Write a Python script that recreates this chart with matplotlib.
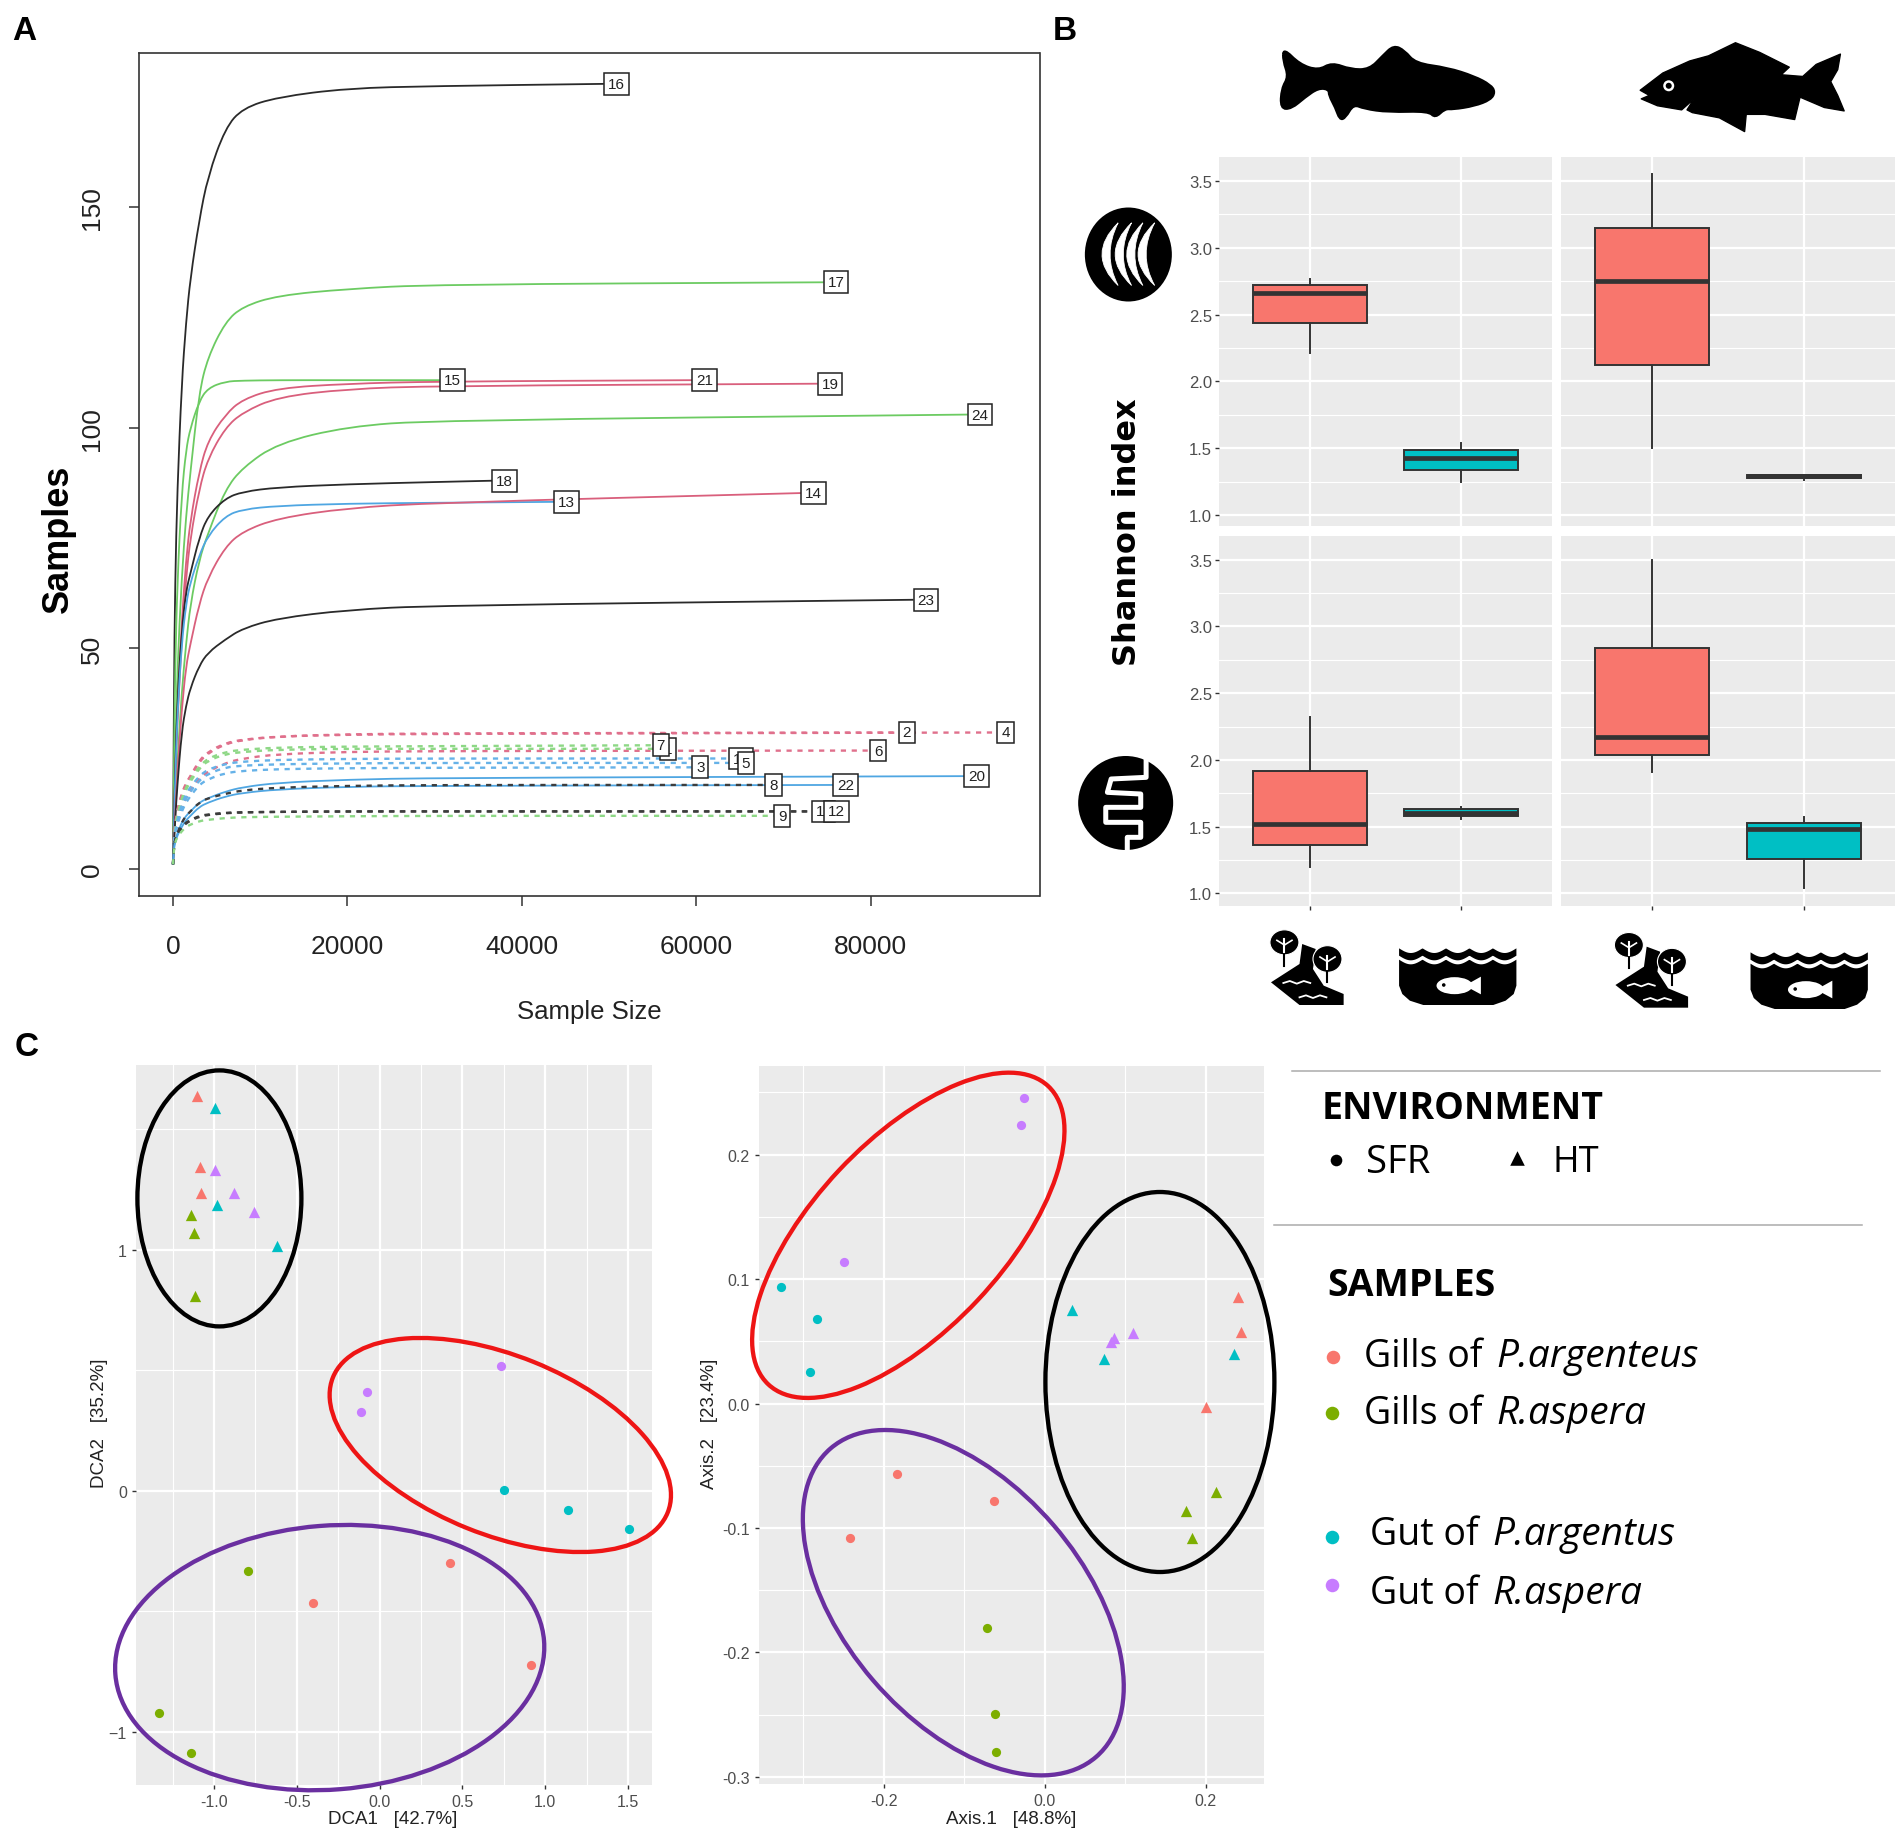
import numpy as np
import matplotlib
matplotlib.use("Agg")
import matplotlib.pyplot as plt
from matplotlib.patches import Ellipse, Polygon, PathPatch, Circle
from matplotlib.path import Path

W, H = 1904, 1833

# ---- panel A data, rarefaction curves
sizes = [1, 100, 250, 500, 1000, 1500, 2000, 3000, 4000, 6000, 8000, 12000, 20000, 30000]

curve_labels = ["16", "17", "15", "21", "19", "24", "18", "13", "14", "23",
                "4", "2", "6", "1", "7", "10", "5", "3", "20", "22", "8", "11", "12", "9"]
curve_kinds = ["k", "g", "g", "r", "r", "g", "k", "b", "r", "k",
               "r", "r", "r", "g", "g", "b", "b", "b", "b", "b", "k", "k", "k", "g"]
curve_dashed = [0, 0, 0, 0, 0, 0, 0, 0, 0, 0,
                1, 1, 1, 1, 1, 1, 1, 1, 0, 0, 1, 1, 1, 1]
curve_end_x = [49400, 74600, 30600, 59500, 73900, 91100, 36600, 43700, 72000, 84900,
               94500, 83200, 79900, 55800, 55000, 63700, 64700, 59500, 90700, 75700, 67900, 73200, 74600, 68900]
curve_end_y = [178, 133, 110.8, 110.8, 110, 103, 88, 83.2, 85.2, 61,
               30.9, 30.9, 26.8, 27.2, 28, 25, 24, 23, 21, 19, 19, 13, 13, 12]
curve_values = [
    [1, 40, 65, 86, 110, 124, 134, 147, 157, 168, 172.5, 175, 177, 177.5],
    [1, 12, 26, 45, 66, 80, 90, 108, 116, 124, 127.5, 130, 131.5, 132.5],
    [1, 24, 45, 65, 85, 95, 100, 106, 109, 110.5, 110.7, 110.8, 110.8, 110.8],
    [1, 10, 22, 36, 56, 70, 79, 90, 97, 103, 106.5, 109, 110, 110.5],
    [1, 9, 20, 33, 52, 66, 75, 86, 93, 100, 103.5, 107, 108.8, 109.5],
    [1, 7, 13, 24, 40, 51, 60, 70, 76, 86, 91, 96.5, 100.3, 101.7],
    [1, 10, 22, 38, 54, 63, 67, 75, 80, 84, 85.5, 86.5, 87.2, 87.7],
    [1, 9, 20, 35, 51, 60, 65, 71, 75.5, 80, 81.5, 82.3, 82.8, 83],
    [1, 6, 12, 22, 36, 46, 51, 60, 66, 73, 76.5, 79.5, 81.8, 83],
    [1, 5, 11, 19, 31, 37, 41, 46, 49, 52, 54.5, 56.8, 58.7, 59.7],
    [1, 7, 10, 13.2, 16.8, 19.2, 20.8, 24.2, 26.2, 28.3, 29.2, 30, 30.4, 30.6],
    [1, 7, 10, 13.5, 17, 19.5, 21, 24.5, 26.5, 28.5, 29.3, 30, 30.5, 30.7],
    [1, 6, 8.5, 11, 14, 16, 18, 20.5, 22, 24, 25, 26, 26.5, 26.7],
    [1, 6, 9, 12, 15.5, 18, 19.8, 22.7, 24.5, 26, 26.5, 27, 27.2, 27.2],
    [1, 7, 9.5, 12.5, 16, 18.5, 20.3, 23.2, 25, 26.5, 27, 27.5, 27.7, 27.8],
    [1, 6, 8.5, 11, 14.5, 17, 18.5, 21, 22.5, 23.8, 24.3, 24.7, 24.9, 25],
    [1, 6, 8, 10.5, 14, 16, 17.5, 20, 21.5, 23, 23.4, 23.7, 23.9, 24],
    [1, 5.5, 7.5, 10, 13, 15, 16.5, 19, 20.3, 21.7, 22.2, 22.6, 22.8, 22.9],
    [1, 5, 6.5, 8, 10.5, 12, 13, 15, 16, 17.5, 18.5, 19.5, 20.2, 20.6],
    [1, 4.5, 6, 7.5, 9.5, 11, 12, 14, 15, 16.4, 17.2, 18, 18.6, 18.8],
    [1, 5, 6.5, 8, 10.5, 12, 13, 15, 16, 17, 17.8, 18.4, 18.8, 19],
    [1, 5, 6.5, 8, 9.3, 10.3, 10.9, 11.8, 12.2, 12.6, 12.8, 12.9, 13, 13],
    [1, 5, 6.5, 8, 9.5, 10.5, 11, 12, 12.3, 12.7, 12.8, 12.9, 13, 13],
    [1, 4.5, 6, 7.2, 8.5, 9.5, 10, 10.8, 11.1, 11.5, 11.7, 11.8, 11.9, 12],
]

# ---- panel B data, one row per box: q1, median, q3, low whisker, high whisker
gills_parg_box = [[2.44, 2.66, 2.72, 2.21, 2.77], [1.34, 1.43, 1.49, 1.25, 1.54]]
gills_rasp_box = [[2.12, 2.75, 3.15, 1.50, 3.55], [1.28, 1.29, 1.30, 1.26, 1.30]]
gut_parg_box = [[1.36, 1.52, 1.92, 1.20, 2.32], [1.58, 1.60, 1.63, 1.56, 1.65]]
gut_rasp_box = [[2.04, 2.17, 2.84, 1.91, 3.50], [1.26, 1.48, 1.53, 1.04, 1.57]]

# ---- panel C data, order of groups: gills P.arg, gills R.asp, gut P.arg, gut R.asp
dca_ht_x = [[-1.105, -1.086, -1.079], [-1.136, -1.120, -1.113], [-0.995, -0.984, -0.620], [-0.992, -0.877, -0.759]]
dca_ht_y = [[1.637, 1.342, 1.236], [1.142, 1.070, 0.806], [1.589, 1.184, 1.014], [1.329, 1.235, 1.156]]
dca_sfr_x = [[0.427, -0.403, 0.916], [-0.793, -1.330, -1.136], [0.749, 1.139, 1.503], [-0.076, -0.115, 0.730]]
dca_sfr_y = [[-0.300, -0.465, -0.722], [-0.332, -0.923, -1.089], [0.004, -0.079, -0.157], [0.408, 0.325, 0.519]]
pcoa_ht_x = [[0.240, 0.2435, 0.200], [0.2131, 0.1755, 0.1831], [0.0338, 0.0742, 0.235], [0.0861, 0.0828, 0.1099]]
pcoa_ht_y = [[0.0856, 0.0576, -0.0029], [-0.0708, -0.0864, -0.1078], [0.0749, 0.0358, 0.0395], [0.0527, 0.0498, 0.0568]]
pcoa_sfr_x = [[-0.1836, -0.0628, -0.2421], [-0.0718, -0.0618, -0.0604], [-0.3277, -0.2830, -0.2920], [-0.0257, -0.0295, -0.2497]]
pcoa_sfr_y = [[-0.0568, -0.0786, -0.1082], [-0.1802, -0.2494, -0.2802], [0.0938, 0.0683, 0.0251], [0.2453, 0.2239, 0.1136]]

line_colors = {"k": "#2a2a2a", "g": "#6ccb62", "r": "#d95f7c", "b": "#4fa6e2"}
dash_colors = {"k": "#3c3c3c", "g": "#8ed886", "r": "#e0708c", "b": "#66b2e8"}
group_colors = ["#F8766D", "#7CAE00", "#00BFC4", "#C77CFF"]
GREY = "#EBEBEB"
TICK = "#4D4D4D"


def pane(left, top, right, bottom):
    return fig.add_axes([left / W, 1 - bottom / H, (right - left) / W, (bottom - top) / H])


def gg_style(ax, xmajor, xminor, ymajor, yminor):
    ax.set_facecolor(GREY)
    for s in ax.spines.values():
        s.set_visible(False)
    ax.set_xticks(xmajor)
    ax.set_yticks(ymajor)
    ax.set_xticks(xminor, minor=True)
    ax.set_yticks(yminor, minor=True)
    ax.set_axisbelow(True)
    ax.grid(which="major", color="white", lw=1.6)
    ax.grid(which="minor", color="white", lw=0.8)
    ax.tick_params(which="minor", length=0)
    ax.tick_params(which="major", length=3, width=1, color="#333333", labelcolor=TICK)


def curve_path(xs, ys):
    # the read values act as control points, so the line bends like the original
    verts = [(xs[0], ys[0])]
    codes = [Path.MOVETO]
    for i in range(1, len(xs) - 1):
        verts += [(xs[i], ys[i]), ((xs[i] + xs[i + 1]) / 2, (ys[i] + ys[i + 1]) / 2)]
        codes += [Path.CURVE3, Path.CURVE3]
    verts.append((xs[-1], ys[-1]))
    codes.append(Path.LINETO)
    return Path(verts, codes)


def closed_smooth(pts):
    n = len(pts)
    mid = lambda a, b: ((a[0] + b[0]) / 2, (a[1] + b[1]) / 2)
    verts = [mid(pts[-1], pts[0])]
    codes = [Path.MOVETO]
    for i in range(n):
        verts += [pts[i], mid(pts[i], pts[(i + 1) % n])]
        codes += [Path.CURVE3, Path.CURVE3]
    return Path(verts, codes)


fig = plt.figure(figsize=(W / 100, H / 100), dpi=100)
plt.rcParams["font.family"] = ["Liberation Sans", "DejaVu Sans"]

# ---- A
ax = pane(139, 54, 1039.5, 896.5)
for lab, kind, dash, ex, ey, vals in zip(curve_labels, curve_kinds, curve_dashed,
                                         curve_end_x, curve_end_y, curve_values):
    p = curve_path(sizes + [ex], vals + [ey])
    if dash:
        ax.add_patch(PathPatch(p, fc="none", ec=dash_colors[kind], lw=1.7, ls=(0, (2.2, 2.4)), zorder=2))
    else:
        ax.add_patch(PathPatch(p, fc="none", ec=line_colors[kind], lw=1.3, zorder=2))
for i, (lab, ex, ey) in enumerate(zip(curve_labels, curve_end_x, curve_end_y)):
    ax.annotate(lab, (ex, ey), xytext=(4, 0), textcoords="offset pixels", ha="left", va="center",
                fontsize=11, color="#222222", zorder=5 + i,
                bbox=dict(boxstyle="square,pad=0.25", fc="white", ec="#222222", lw=1.1))
ax.set_xlim(-3896, 99340)
ax.set_ylim(-6.07, 185)
ax.set_xticks([0, 20000, 40000, 60000, 80000])
ax.set_yticks([0, 50, 100, 150])
ax.tick_params(length=7, width=1.1, color="#333333", labelsize=19, labelcolor="#222222")
ax.tick_params(axis="x", pad=21)
ax.tick_params(axis="y", pad=18, labelrotation=90)
for t in ax.get_yticklabels():
    t.set_va("center")
for s in ax.spines.values():
    s.set_color("#333333")
    s.set_linewidth(1.2)

# ---- B
facet_cols = [(1219, 1552), (1561, 1895)]
facet_rows = [(158, 527), (536.5, 906.5)]
facet_data = [[gills_parg_box, gills_rasp_box], [gut_parg_box, gut_rasp_box]]
for r, (top, bottom) in enumerate(facet_rows):
    for c, (left, right) in enumerate(facet_cols):
        ax = pane(left, top, right, bottom)
        gg_style(ax, [1, 2], [], [1, 1.5, 2, 2.5, 3, 3.5], [1.25, 1.75, 2.25, 2.75, 3.25])
        stats = []
        for q1, med, q3, lo, hi in facet_data[r][c]:
            stats.append(dict(q1=q1, med=med, q3=q3, whislo=lo, whishi=hi, fliers=[]))
        parts = ax.bxp(stats, positions=[1, 2], widths=0.75, patch_artist=True, showcaps=False,
                       showfliers=False, manage_ticks=False,
                       boxprops=dict(edgecolor="#333333", lw=1.4),
                       whiskerprops=dict(color="#333333", lw=1.4),
                       medianprops=dict(color="#333333", lw=3.4, solid_capstyle="butt"))
        parts["boxes"][0].set_facecolor("#F8766D")
        parts["boxes"][1].set_facecolor("#00BFC4")
        ax.set_xlim(0.4, 2.6)
        ax.set_ylim(0.918 if r == 0 else 0.91, 3.68)
        ax.set_xticklabels([])
        ax.tick_params(axis="x", length=3 if r == 1 else 0)
        if c == 1:
            ax.tick_params(axis="y", length=0, labelleft=False)
        else:
            ax.tick_params(axis="y", labelsize=12, pad=2)

# ---- C
ax = pane(136, 1065.5, 652, 1785.5)
gg_style(ax, [-1, -0.5, 0, 0.5, 1, 1.5], [-1.25, -0.75, -0.25, 0.25, 0.75, 1.25],
         [-1, 0, 1], [-0.5, 0.5, 1.5])
for col, hx, hy, sx, sy in zip(group_colors, dca_ht_x, dca_ht_y, dca_sfr_x, dca_sfr_y):
    ax.scatter(hx, hy, marker="^", s=66, color=col, linewidths=0, zorder=3)
    ax.scatter(sx, sy, marker="o", s=44, color=col, linewidths=0, zorder=3)
ax.set_xlim(-1.471, 1.644)
ax.set_ylim(-1.218, 1.768)
ax.set_xticklabels(["-1.0", "-0.5", "0.0", "0.5", "1.0", "1.5"])
ax.tick_params(labelsize=11.5)

ax = pane(758.5, 1066.5, 1263.5, 1784.5)
gg_style(ax, [-0.2, 0, 0.2], [-0.3, -0.1, 0.1],
         [-0.3, -0.2, -0.1, 0, 0.1, 0.2], [-0.25, -0.15, -0.05, 0.05, 0.15, 0.25])
for col, hx, hy, sx, sy in zip(group_colors, pcoa_ht_x, pcoa_ht_y, pcoa_sfr_x, pcoa_sfr_y):
    ax.scatter(hx, hy, marker="^", s=66, color=col, linewidths=0, zorder=3)
    ax.scatter(sx, sy, marker="o", s=44, color=col, linewidths=0, zorder=3)
ax.set_xlim(-0.3558, 0.272)
ax.set_ylim(-0.3053, 0.2716)
ax.set_xticklabels(["-0.2", "0.0", "0.2"])
ax.set_yticklabels(["-0.3", "-0.2", "-0.1", "0.0", "0.1", "0.2"])
ax.tick_params(labelsize=11.5)

# ---- overlay in picture pixels: texts, rings, icons, legend
ov = fig.add_axes([0, 0, 1, 1], zorder=20)
ov.set_xlim(0, W)
ov.set_ylim(H, 0)
ov.axis("off")
ov.patch.set_alpha(0)

ov.text(24, 31, "A", fontsize=24, fontweight="bold", ha="center", va="center")
ov.text(1065, 31, "B", fontsize=24, fontweight="bold", ha="center", va="center")
ov.text(27, 1048, "C", fontsize=24, fontweight="bold", ha="center", va="center")

ov.text(589, 1012, "Sample Size", fontsize=18.5, ha="center", va="center", color="#222222")
ov.text(58, 539, "Samples", fontsize=26, fontweight="bold", rotation=90, ha="center", va="center")
ov.text(1127, 532, "Shannon index", fontsize=23, fontweight="bold", rotation=90, ha="center", va="center",
        family="DejaVu Sans")

ov.text(393, 1820, "DCA1   [42.7%]", fontsize=13.5, ha="center", va="center", color="#222222")
ov.text(100, 1423, "DCA2   [35.2%]", fontsize=13.5, rotation=90, ha="center", va="center", color="#222222")
ov.text(1011, 1820, "Axis.1   [48.8%]", fontsize=13.5, ha="center", va="center", color="#222222")
ov.text(710, 1424, "Axis.2   [23.4%]", fontsize=13.5, rotation=90, ha="center", va="center", color="#222222")

rings = [
    ((219.4, 1199.4), 164, 256, 0, "black"),
    ((500.3, 1446), 361, 179, 22, "#EE1515"),
    ((329.7, 1658.6), 430, 264, -4.5, "#6A2FA0"),
    ((1159.9, 1383), 229, 380, 0, "black"),
    ((908.3, 1236.3), 409, 190, -46.8, "#EE1515"),
    ((963.3, 1603.7), 407, 238, 49.3, "#6A2FA0"),
]
for center, w, h, ang, col in rings:
    ov.add_patch(Ellipse(center, w, h, angle=ang, fill=False, ec=col, lw=3.1))


def top_pts(pts):
    return [(1060 + x / 1.858, y / 2.904) for x, y in pts]


def low_pts(pts, dx=0, dy=0):
    return [(1060 + (x + dx) / 1.858, 530 + (y + dy) / 3.0) for x, y in pts]


fish1 = [(415, 143), (445, 190), (480, 208), (505, 185), (540, 205), (575, 205), (600, 165), (620, 135),
         (640, 150), (660, 187), (720, 200), (770, 225), (800, 250), (808, 270), (800, 292), (770, 310),
         (730, 320), (715, 318), (697, 345), (685, 325), (610, 328), (565, 318), (545, 305), (530, 345),
         (520, 350), (512, 315), (500, 280), (500, 262), (480, 258), (455, 285), (430, 318), (410, 318),
         (412, 260), (425, 225), (415, 180)]
fish2 = [(1078, 265), (1120, 215), (1170, 180), (1205, 165), (1255, 127), (1300, 155), (1355, 198),
         (1340, 220), (1380, 225), (1405, 190), (1450, 160), (1445, 205), (1432, 240), (1445, 280),
         (1457, 325), (1420, 315), (1375, 285), (1365, 350), (1310, 335), (1275, 335), (1272, 385),
         (1225, 345), (1175, 330), (1165, 322), (1178, 290), (1155, 322), (1110, 310), (1080, 290), (1095, 280)]
ov.add_patch(PathPatch(closed_smooth(top_pts(fish1)), fc="black", ec="black", lw=2))
ov.add_patch(Polygon(top_pts(fish2), fc="black", ec="black", lw=1, joinstyle="round"))
eye = top_pts([(1131, 252)])[0]
ov.add_patch(Circle(eye, 5.5, fc="white", ec="none"))
ov.add_patch(Circle(eye, 3, fc="black", ec="none"))

# gills
ov.add_patch(Ellipse(top_pts([(127, 742)])[0], 87, 94, fc="black", ec="none"))
for xt, xm in [(108, 62), (133, 86), (154, 108), (176, 128)]:
    p = top_pts([(xt, 650), (xm - 14, 742), (xt, 832), (xm + 16, 742), (xt, 650)])
    ov.add_patch(PathPatch(Path(p, [Path.MOVETO, Path.CURVE3, Path.CURVE3, Path.CURVE3, Path.CURVE3]),
                           fc="white", ec="white", lw=0.6))

# gut
ov.add_patch(Ellipse(low_pts([(122, 822)])[0], 95, 94, fc="black", ec="none"))
gut = [(160, 695), (160, 745), (95, 750), (88, 790), (150, 795), (150, 835), (85, 835), (85, 880),
       (150, 880), (150, 925), (125, 925), (125, 965)]
g = low_pts(gut)
ov.plot([q[0] for q in g], [q[1] for q in g], color="white", lw=3.6, solid_joinstyle="round")


def forest(dx, dy):
    ov.add_patch(Polygon(low_pts([(450, 1245), (475, 1260), (470, 1320), (490, 1370), (527, 1395), (527, 1428),
                                  (445, 1428), (392, 1360), (445, 1305)], dx, dy), fc="black", ec="none"))
    for cx, cy, hgt in [(417, 1240, 75), (497, 1290, 80)]:
        ov.add_patch(Ellipse(low_pts([(cx, cy)], dx, dy)[0], 29, hgt / 3.0, fc="black", ec="white", lw=0.8))
        s = low_pts([(cx, cy - 10), (cx, cy + 70)], dx, dy)
        ov.plot([s[0][0], s[1][0]], [s[0][1], s[1][1]], color="black", lw=1.5, zorder=3)
        s = low_pts([(cx, cy - 10), (cx, cy + 30)], dx, dy)
        ov.plot([s[0][0], s[1][0]], [s[0][1], s[1][1]], color="white", lw=1.5, zorder=3)
        s = low_pts([(cx - 14, cy - 6), (cx, cy + 8), (cx + 14, cy - 6)], dx, dy)
        ov.plot([q[0] for q in s], [q[1] for q in s], color="white", lw=1.2, zorder=3)
    for sx, sy in [(415, 1362), (445, 1405)]:
        s = low_pts([(sx, sy), (sx + 12, sy - 6), (sx + 25, sy + 2), (sx + 38, sy - 6), (sx + 50, sy)], dx, dy)
        ov.plot([q[0] for q in s], [q[1] for q in s], color="white", lw=1.3, zorder=3)


def water(dx, dy):
    wx = np.linspace(630, 848, 120)
    band_top = 1258 + 14 * np.abs(np.sin((wx - 630) / 218 * 5 * np.pi))
    band_low = band_top + 22
    ov.add_patch(Polygon(low_pts(list(zip(wx, band_top)) + list(zip(wx[::-1], band_low[::-1])), dx, dy),
                         fc="black", ec="none"))
    body_top = band_low + 12
    outline = list(zip(wx, body_top)) + [(848, 1370), (843, 1395), (828, 1415), (805, 1428), (675, 1428),
                                         (650, 1415), (636, 1395), (630, 1370)]
    ov.add_patch(Polygon(low_pts(outline, dx, dy), fc="black", ec="none", joinstyle="round"))
    ov.add_patch(Ellipse(low_pts([(733, 1370)], dx, dy)[0], 36, 17, fc="white", ec="none", zorder=3))
    ov.add_patch(Polygon(low_pts([(782, 1343), (782, 1396), (752, 1370)], dx, dy), fc="white", ec="none", zorder=3))
    ov.add_patch(Circle(low_pts([(713, 1368)], dx, dy)[0], 1.8, fc="black", ec="none", zorder=4))


forest(0, 0)
forest(640, 8)
water(0, 0)
water(653, 12)

# legend
ov.plot([1292, 1880], [1071.5, 1071.5], color="#ABABAB", lw=1.1)
ov.plot([1274, 1862], [1226, 1226], color="#ABABAB", lw=1.1)
LEG = "Open Sans"
ov.text(1322, 1109, "ENVIRONMENT", family=LEG, fontsize=27, fontweight="bold", va="center", ha="left")
ov.text(1366, 1163, "SFR", family=LEG, fontsize=27.5, va="center", ha="left")
ov.text(1553, 1163, "HT", family=LEG, fontsize=26, va="center", ha="left")
ov.scatter([1335.6], [1161], marker="o", s=70, color="black", linewidths=0)
ov.scatter([1516.7], [1159], marker="^", s=110, color="black", linewidths=0)
ov.text(1327, 1286, "SAMPLES", family=LEG, fontsize=27, fontweight="bold", va="center", ha="left")

row_plain = ["Gills of", "Gills of", "Gut of", "Gut of"]
row_species = ["P.argenteus", "R.aspera", "P.argentus", "R.aspera"]
row_x = [(1364, 1496), (1364, 1496), (1370, 1492), (1370, 1492)]
row_y = [1357, 1414, 1535, 1594]
dot_y = [1358, 1414, 1538, 1586]
dot_x = [1333, 1332, 1332, 1331.5]
for plain, species, (x1, x2), y, dx, dy, col in zip(row_plain, row_species, row_x, row_y, dot_x, dot_y, group_colors):
    ov.text(x1, y, plain, family=LEG, fontsize=27, va="center", ha="left")
    ov.text(x2, y, species, family=LEG, fontsize=28, fontstyle="italic", va="center", ha="left")
    ov.scatter([dx], [dy], marker="o", s=95, color=col, linewidths=0)

ov.set_xlim(0, W)
ov.set_ylim(H, 0)
fig.savefig("out.png", dpi=100, facecolor="white")
